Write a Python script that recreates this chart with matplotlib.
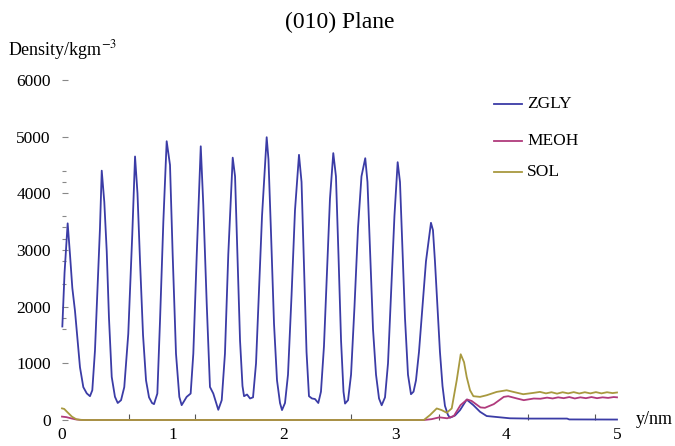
import matplotlib
matplotlib.use('Agg')
import matplotlib.pyplot as plt
from matplotlib.lines import Line2D

plt.rcParams['font.family'] = 'serif'
plt.rcParams['font.serif'] = ['Liberation Serif', 'DejaVu Serif']
plt.rcParams['mathtext.fontset'] = 'stix'

# --- density profiles along y (nm) ---
zgly_nm = [0.003, 0.023, 0.051, 0.072, 0.093, 0.117, 0.141, 0.162, 0.192, 0.223, 0.252, 0.273, 0.297, 0.322, 0.342,
           0.358, 0.381, 0.403, 0.423, 0.448, 0.477, 0.502, 0.532, 0.561, 0.597, 0.633,
           0.658, 0.680, 0.703, 0.730, 0.757, 0.784, 0.811, 0.829, 0.859, 0.883, 0.913,
           0.943, 0.973, 0.997, 1.027, 1.057, 1.078, 1.123, 1.159, 1.183, 1.214,
           1.250, 1.273, 1.304, 1.333, 1.363, 1.408, 1.439, 1.468, 1.498,
           1.538, 1.559, 1.581, 1.604, 1.626, 1.640, 1.667, 1.694, 1.721, 1.748, 1.775, 1.802,
           1.844, 1.860, 1.883, 1.910, 1.937, 1.964, 1.982, 2.009, 2.036, 2.068, 2.099,
           2.135, 2.158, 2.180, 2.203, 2.225, 2.252, 2.279, 2.309, 2.333, 2.360, 2.387, 2.414,
           2.444, 2.468, 2.491, 2.514, 2.536, 2.550, 2.577, 2.604, 2.635, 2.667, 2.698,
           2.732, 2.752, 2.775, 2.802, 2.829, 2.856, 2.880, 2.910, 2.937, 2.964, 2.995,
           3.024, 3.045, 3.068, 3.090, 3.117, 3.144, 3.167, 3.189, 3.216, 3.248, 3.279,
           3.324, 3.342, 3.360, 3.383, 3.405, 3.428, 3.450, 3.477, 3.495, 3.541, 3.586, 3.646,
           3.706, 3.766, 3.826, 3.946, 4.036, 4.216, 4.550, 4.570, 5.000]
zgly_rho = [1650, 2600, 3470, 2920, 2330, 1925, 1400, 930, 580, 470, 420, 525, 1225, 2400, 3380,
            4400, 3850, 2975, 1810, 760, 410, 300, 350, 580, 1520, 3270,
            4650, 4000, 2800, 1500, 700, 400, 300, 280, 467, 1750, 3500,
            4920, 4500, 2920, 1170, 408, 262, 408, 467, 1170, 2920,
            4830, 3790, 2040, 583, 467, 180, 350, 1170, 2920,
            4630, 4300, 2900, 1400, 600, 420, 450, 380, 400, 1000, 2300, 3600,
            4990, 4600, 3300, 1700, 700, 300, 175, 300, 800, 2200, 3700,
            4680, 4200, 2700, 1200, 420, 380, 370, 300, 500, 1300, 2600, 3900,
            4710, 4300, 2900, 1400, 500, 290, 350, 800, 2000, 3400, 4300,
            4620, 4200, 3000, 1600, 800, 380, 260, 400, 1000, 2200, 3600,
            4550, 4200, 3000, 1800, 800, 455, 500, 700, 1200, 2000, 2800,
            3480, 3350, 2800, 2000, 1200, 600, 250, 90, 40, 80, 175, 360,
            262, 145, 70, 47, 30, 25, 25, 10, 8]

meoh_nm = [0.0, 0.04, 0.08, 0.12, 0.16, 0.22,
           3.26, 3.33, 3.40, 3.47, 3.53, 3.59, 3.65, 3.69, 3.77, 3.81, 3.89, 3.98, 4.02, 4.10, 4.16, 4.25,
           4.31, 4.37, 4.42, 4.47, 4.52, 4.57, 4.62, 4.67, 4.72, 4.77, 4.82, 4.87, 4.92, 4.97, 5.00]
meoh_rho = [60, 50, 30, 12, 3, 0,
            0, 15, 47, 30, 70, 262, 362, 337, 222, 215, 280, 408, 420, 379, 350, 379,
            375, 395, 380, 400, 385, 405, 380, 400, 385, 405, 385, 400, 390, 405, 400]

sol_nm = [0.0, 0.02, 0.045, 0.09, 0.13, 0.18,
          3.26, 3.315, 3.376, 3.42, 3.466, 3.511, 3.556, 3.592, 3.622, 3.646, 3.676, 3.706, 3.766, 3.826,
          3.916, 4.006, 4.066, 4.155, 4.245, 4.306,
          4.36, 4.41, 4.46, 4.51, 4.56, 4.61, 4.66, 4.71, 4.76, 4.81, 4.86, 4.91, 4.96, 5.0]
sol_rho = [205, 195, 145, 58, 12, 0,
           0, 87, 204, 175, 128, 204, 700, 1160, 1020, 758, 525, 420, 408, 437,
           496, 525, 496, 455, 478, 496,
           470, 490, 465, 490, 470, 492, 468, 490, 470, 492, 470, 490, 475, 485]

series = ['ZGLY', 'MEOH', 'SOL']
cores = ['#3b3ca6', '#b03a7c', '#a8993f']

x_ticks = [0, 1, 2, 3, 4, 5]
x_marks = [0.6, 1.2, 2.0, 2.6, 3.4, 4.0, 4.2, 4.8]
y_ticks = [0, 1000, 2000, 3000, 4000, 5000, 6000]
y_marks = [1600, 1800, 2400, 2800, 3000, 3200, 3400, 3600, 4200, 4400]

fig = plt.figure(figsize=(6.75, 4.46), dpi=100)
ax = fig.add_axes([62 / 675, 1 - 420 / 446, 555 / 675, 340 / 446])

dados = [(zgly_nm, zgly_rho), (meoh_nm, meoh_rho), (sol_nm, sol_rho)]
for (xs, ys), cor in zip(dados, cores):
    ax.plot(xs, ys, color=cor, lw=1.3, clip_on=False)

ax.set_xlim(0, 5)
ax.set_ylim(0, 6000)
for s in ax.spines.values():
    s.set_visible(False)

ax.set_xticks(x_ticks)
ax.set_xticklabels([str(t) for t in x_ticks])
ax.set_xticks(x_marks, minor=True)
ax.set_yticks(y_ticks)
ax.set_yticklabels([str(t) for t in y_ticks])
ax.set_yticks(y_marks, minor=True)
ax.tick_params(axis='x', which='major', length=0, pad=5, labelsize=12.5)
ax.tick_params(axis='x', which='minor', direction='in', length=4, width=0.8, color='#555555')
ax.tick_params(axis='y', which='major', direction='in', length=4, width=0.8, color='#888888',
               pad=8, labelsize=12.5)
ax.tick_params(axis='y', which='minor', direction='in', length=3, width=0.8, color='#888888')

ax.text(1.034, 0.0, 'y/nm', transform=ax.transAxes, ha='left', va='center', fontsize=13)
fig.text(8 / 675, 1 - 50 / 446, 'Density/kgm$^{-3}$', ha='left', va='center', fontsize=13)
fig.text(340 / 675, 1 - 22 / 446, '(010) Plane', ha='center', va='center', fontsize=17)

# legenda desenhada à mão
for nome, cor, ypx in zip(series, cores, [104, 140.5, 172]):
    yf = 1 - ypx / 446
    fig.add_artist(Line2D([494 / 675, 522 / 675], [yf, yf], color=cor, lw=1.3))
    fig.text(527 / 675, yf, nome, ha='left', va='center', fontsize=12.5)

fig.savefig('out.png', dpi=100)
